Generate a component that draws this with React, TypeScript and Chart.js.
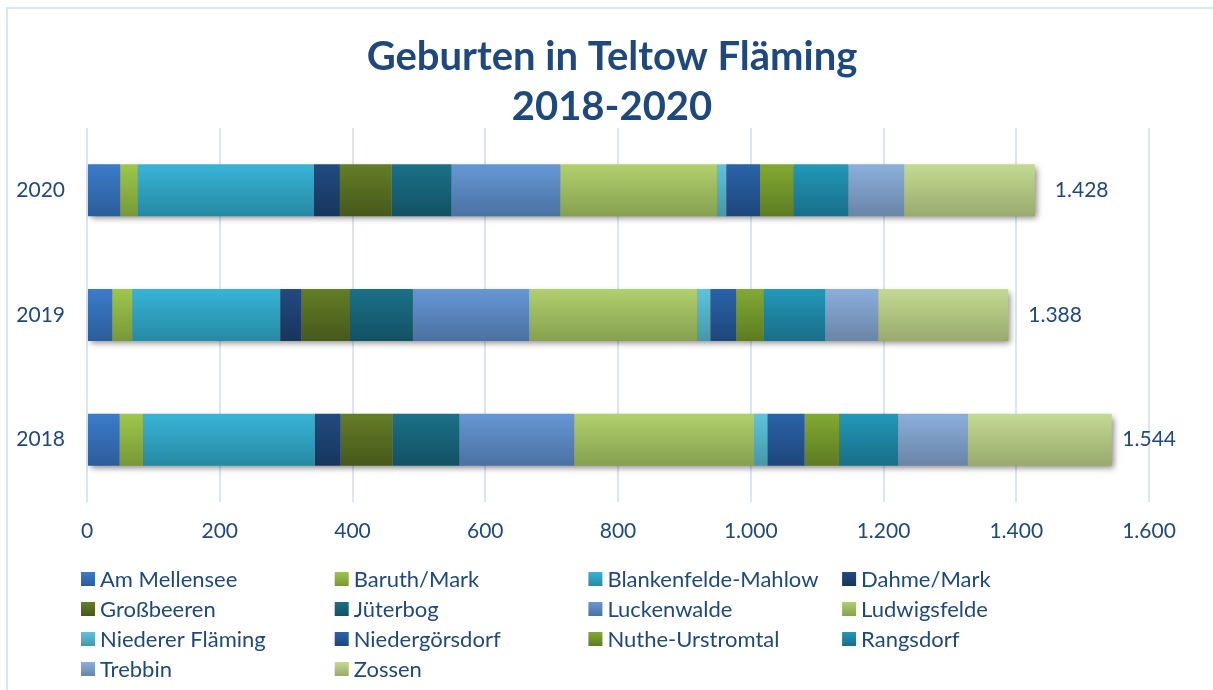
import React, { useEffect, useRef } from "react";
import { Chart, registerables } from "chart.js";

Chart.register(...registerables);

// Categories (top to bottom)
const years = ["2020", "2019", "2018"];

// Births per municipality, in the order of `years`
const amMellensee = [50, 38, 49];
const baruthMark = [26, 30, 35];
const blankenfeldeMahlow = [266, 223, 259];
const dahmeMark = [39, 32, 39];
const grossbeeren = [78, 72, 78];
const jueterbog = [90, 96, 101];
const luckenwalde = [164, 175, 173];
const ludwigsfelde = [236, 253, 271];
const niedererFlaeming = [14, 20, 20];
const niedergoersdorf = [51, 39, 56];
const nutheUrstromtal = [50, 41, 52];
const rangsdorf = [83, 93, 89];
const trebbin = [84, 80, 105];
const zossen = [197, 196, 217];

const xTicks = [0, 200, 400, 600, 800, 1000, 1200, 1400, 1600];

const titleLines = ["Geburten in Teltow Fläming", "2018-2020"];

const seriesNames = [
  "Am Mellensee",
  "Baruth/Mark",
  "Blankenfelde-Mahlow",
  "Dahme/Mark",
  "Großbeeren",
  "Jüterbog",
  "Luckenwalde",
  "Ludwigsfelde",
  "Niederer Fläming",
  "Niedergörsdorf",
  "Nuthe-Urstromtal",
  "Rangsdorf",
  "Trebbin",
  "Zossen",
];
const seriesValues = [
  amMellensee,
  baruthMark,
  blankenfeldeMahlow,
  dahmeMark,
  grossbeeren,
  jueterbog,
  luckenwalde,
  ludwigsfelde,
  niedererFlaeming,
  niedergoersdorf,
  nutheUrstromtal,
  rangsdorf,
  trebbin,
  zossen,
];
// [top, bottom] gradient colours
const seriesColors: [string, string][] = [
  ["#3b7cca", "#2c5d9a"],
  ["#9ec74b", "#789837"],
  ["#38b4d7", "#2689a4"],
  ["#224b81", "#17355d"],
  ["#647e26", "#46581b"],
  ["#1b7187", "#135164"],
  ["#6697d5", "#4a71a2"],
  ["#b1d06d", "#86a04f"],
  ["#5dc4dd", "#4697aa"],
  ["#2a63a9", "#1e467b"],
  ["#83a933", "#5d7c22"],
  ["#2398b9", "#186e88"],
  ["#8bafdc", "#6985a7"],
  ["#c4da93", "#99aa6d"],
];

const TEXT = "#1f497d";
const FONT = "Lato, 'Open Sans', sans-serif";

function fmt(n: number): string {
  const s = String(Math.round(n));
  return s.replace(/\B(?=(\d{3})+(?!\d))/g, ".");
}

const totals = years.map((_, i) =>
  seriesValues.reduce((acc, arr) => acc + arr[i], 0)
);

const titlePlugin = {
  id: "centeredTitle",
  afterDraw(chart: any) {
    const ctx = chart.ctx;
    const cx = (chart.chartArea.left + chart.chartArea.right) / 2 - 6;
    ctx.save();
    ctx.font = `bold 40px ${FONT}`;
    ctx.fillStyle = TEXT;
    ctx.textAlign = "center";
    ctx.textBaseline = "middle";
    titleLines.forEach((line, i) => {
      ctx.fillText(line, cx, 57 + i * 50);
    });
    ctx.restore();
  },
};

const barShadowPlugin = {
  id: "barShadow",
  beforeDatasetsDraw(chart: any) {
    const metaLast = chart.getDatasetMeta(chart.data.datasets.length - 1);
    const xs = chart.scales.x;
    const ctx = chart.ctx;
    ctx.save();
    metaLast.data.forEach((el: any, i: number) => {
      const x0 = xs.getPixelForValue(0);
      const x1 = xs.getPixelForValue(totals[i]);
      const h = el.height;
      ctx.shadowColor = "rgba(0,0,0,0.45)";
      ctx.shadowBlur = 6;
      ctx.shadowOffsetX = 3;
      ctx.shadowOffsetY = 3;
      ctx.fillStyle = "#999";
      ctx.fillRect(x0 + 1, el.y - h / 2 + 1, x1 - x0 - 2, h - 2);
    });
    ctx.restore();
  },
  afterDatasetsDraw(chart: any) {
    const metaLast = chart.getDatasetMeta(chart.data.datasets.length - 1);
    const xs = chart.scales.x;
    const ctx = chart.ctx;
    ctx.save();
    ctx.font = `21px ${FONT}`;
    ctx.fillStyle = TEXT;
    ctx.textAlign = "left";
    ctx.textBaseline = "middle";
    metaLast.data.forEach((el: any, i: number) => {
      const label = fmt(totals[i]);
      const w = ctx.measureText(label).width;
      const x1 = xs.getPixelForValue(totals[i]);
      const x = Math.min(x1 + 20, chart.width - 37 - w);
      ctx.fillText(label, x, el.y);
    });
    ctx.restore();
  },
};

const gridLegendPlugin = {
  id: "gridLegend",
  afterDraw(chart: any) {
    const ctx = chart.ctx;
    const left = chart.chartArea.left - 6;
    const colW = 253.7;
    const top = 579;
    const rowH = 30;
    ctx.save();
    ctx.font = `22px ${FONT}`;
    ctx.textAlign = "left";
    ctx.textBaseline = "middle";
    chart.data.datasets.forEach((ds: any, i: number) => {
      const col = i % 4;
      const row = Math.floor(i / 4);
      const x = left + col * colW;
      const y = top + row * rowH;
      const [c1, c2] = seriesColors[i];
      const g = ctx.createLinearGradient(0, y - 7, 0, y + 7);
      g.addColorStop(0, c1);
      g.addColorStop(1, c2);
      ctx.fillStyle = g;
      ctx.fillRect(x, y - 7, 14, 14);
      ctx.fillStyle = TEXT;
      ctx.fillText(ds.label, x + 19, y + 1);
    });
    ctx.restore();
  },
};

export default function App() {
  const canvasRef = useRef<HTMLCanvasElement | null>(null);

  useEffect(() => {
    const canvas = canvasRef.current;
    if (!canvas) return;

    const datasets = seriesNames.map((name, si) => ({
      label: name,
      data: seriesValues[si],
      backgroundColor: (c: any) => {
        const chart = c.chart;
        const [c1, c2] = seriesColors[si];
        if (!chart.chartArea || !chart.scales || !chart.scales.y) return c1;
        const ys = chart.scales.y;
        const yc = ys.getPixelForValue(c.dataIndex);
        const half = 26;
        const g = chart.ctx.createLinearGradient(0, yc - half, 0, yc + half);
        g.addColorStop(0, c1);
        g.addColorStop(1, c2);
        return g;
      },
      borderWidth: 0,
      categoryPercentage: 1,
      barPercentage: 0.417,
    }));

    const chart = new Chart(canvas, {
      type: "bar",
      data: { labels: years, datasets },
      plugins: [barShadowPlugin, gridLegendPlugin, titlePlugin],
      options: {
        indexAxis: "y",
        animation: false,
        responsive: false,
        maintainAspectRatio: false,
        layout: { padding: { left: 0, right: 64, top: 128, bottom: 0 } },
        plugins: {
          legend: { display: false },
          tooltip: { enabled: false },
          title: { display: false },
        },
        scales: {
          x: {
            stacked: true,
            min: 0,
            max: 1600,
            afterBuildTicks: (scale: any) => {
              scale.ticks = xTicks.map((v) => ({ value: v }));
            },
            afterFit: (scale: any) => {
              scale.height = 188;
            },
            grid: {
              color: "#dce6f3",
              lineWidth: 2,
              drawTicks: false,
            },
            border: { display: false },
            ticks: {
              color: TEXT,
              font: { family: FONT, size: 21 },
              padding: 17,
              callback: (v: any) => fmt(Number(v)),
            },
          },
          y: {
            stacked: true,
            afterFit: (scale: any) => {
              scale.width = 87;
            },
            grid: { display: false, drawTicks: false },
            border: { display: false },
            ticks: {
              color: TEXT,
              font: { family: FONT, size: 21 },
              padding: 22,
            },
          },
        },
      },
    });

    return () => chart.destroy();
  }, []);

  return (
    <div
      style={{
        position: "fixed",
        left: 0,
        top: 0,
        width: 1213,
        height: 690,
        background: "#ffffff",
        overflow: "hidden",
      }}
    >
      <div
        style={{
          position: "absolute",
          left: 6,
          top: 7,
          width: 1230,
          height: 700,
          borderTop: "2px solid #dbe6f4",
          borderLeft: "2px solid #dbe6f4",
        }}
      />
      <canvas
        ref={canvasRef}
        width={1213}
        height={690}
        style={{ position: "absolute", left: 0, top: 0, width: 1213, height: 690 }}
      />
    </div>
  );
}
